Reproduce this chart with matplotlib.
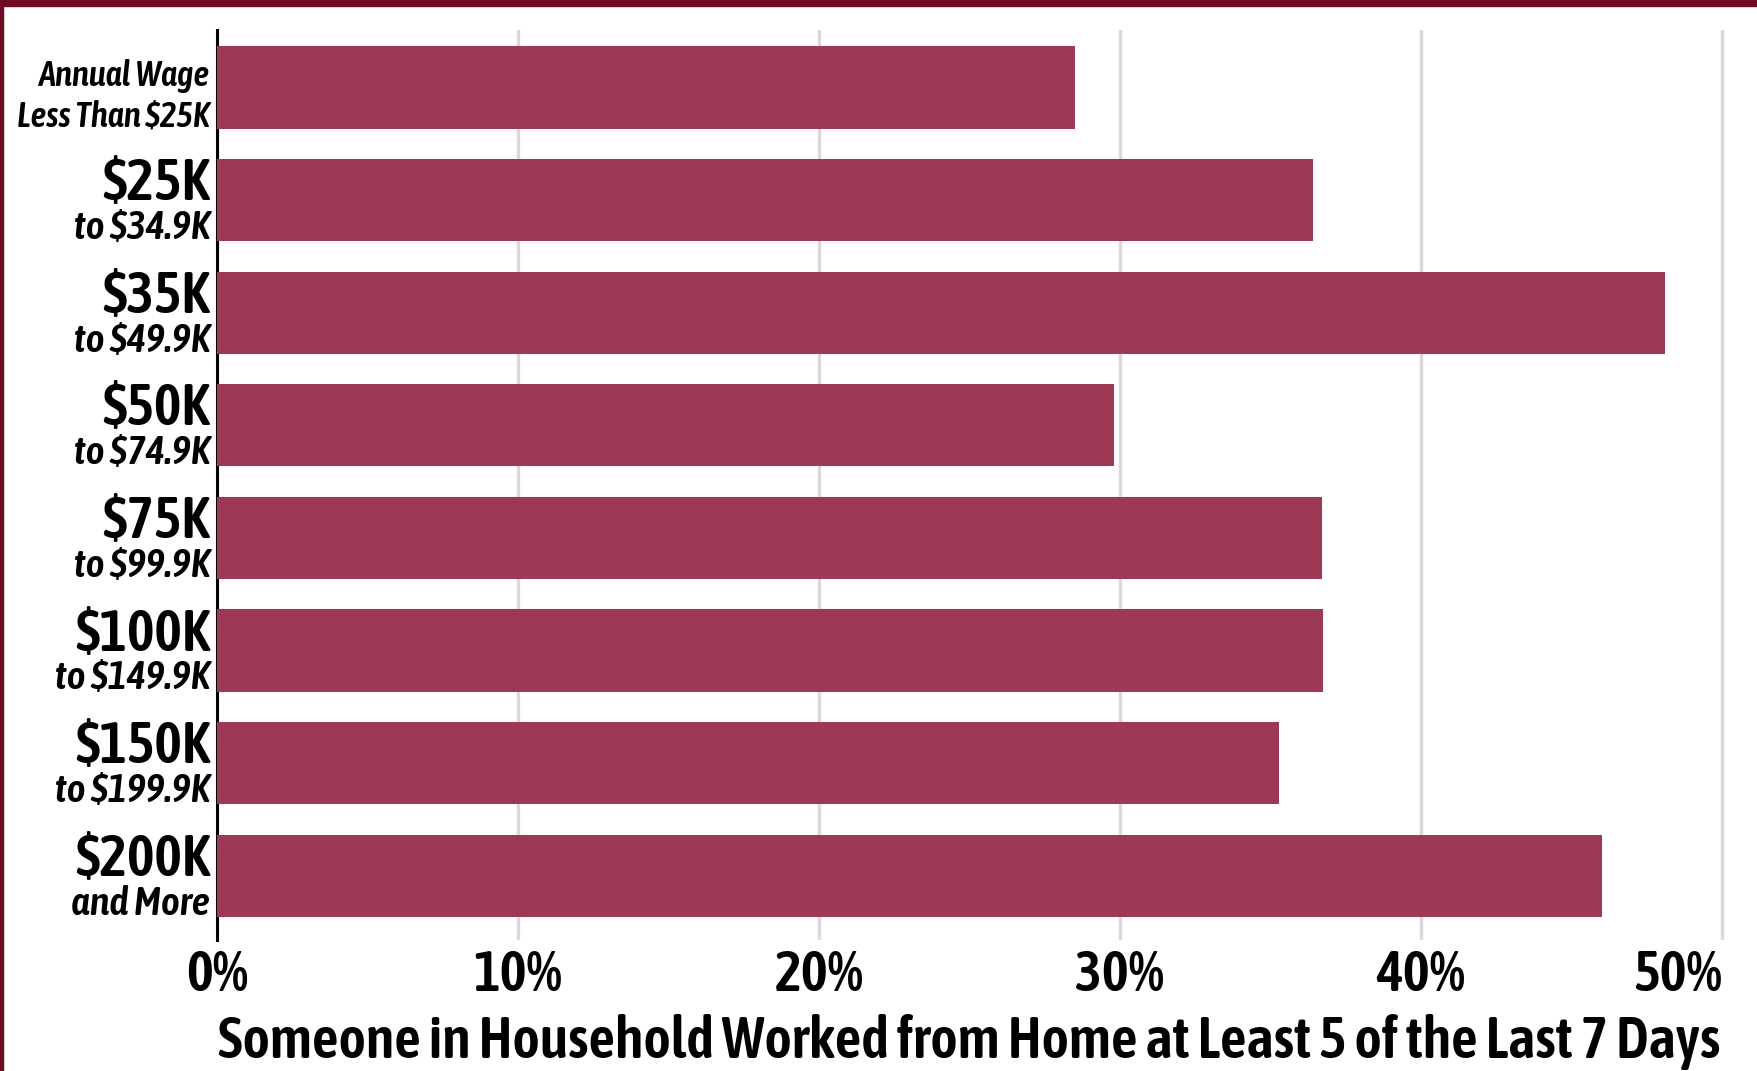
import matplotlib
matplotlib.use("Agg")
import matplotlib.pyplot as plt
from matplotlib.patches import Rectangle
from matplotlib import transforms

plt.rcParams["font.family"] = ["Asap Condensed", "Liberation Sans Narrow", "DejaVu Sans"]
plt.rcParams["text.parse_math"] = False
ITALIC_FAMILY = ["Asap Semi", "Asap Condensed", "Liberation Sans Narrow", "DejaVu Sans"]

# data
categories = [
    "Less than $25K", "$25K-$34.9K", "$35K-$49.9K", "$50K-$74.9K",
    "$75K-$99.9K", "$100K-$149.9K", "$150K-$199.9K", "$200K+",
]
pct_wfh = [28.5, 36.4, 48.1, 29.8, 36.7, 36.75, 35.3, 46.0]
label_top = ["Annual Wage", "$25K", "$35K", "$50K", "$75K", "$100K", "$150K", "$200K"]
label_bottom = ["Less Than $25K", "to $34.9K", "to $49.9K", "to $74.9K",
                "to $99.9K", "to $149.9K", "to $199.9K", "and More"]
x_ticks = [0, 10, 20, 30, 40, 50]
x_tick_labels = ["0%", "10%", "20%", "30%", "40%", "50%"]
x_title = "Someone in Household Worked from Home at Least 5 of the Last 7 Days"

BAR = "#9d3955"
FRAME = "#6c0b22"

fig = plt.figure(figsize=(17.57, 10.71), dpi=100)
ax = fig.add_axes([217 / 1757, 1 - 940 / 1071, (1737 - 217) / 1757, 910 / 1071])

pos = list(range(len(categories)))
ax.barh(pos, pct_wfh, height=0.73, color=BAR, zorder=3)

ax.set_xlim(0, 50.5)
ax.set_ylim(7.57, -0.51)
ax.set_xticks(x_ticks)
ax.set_xticklabels(x_tick_labels, fontsize=41, fontweight=600)
ax.xaxis.get_ticklabels()[-1].set_horizontalalignment("right")
ax.tick_params(axis="x", length=0, pad=6)
ax.set_yticks([])
ax.grid(axis="x", color="#d9d9d9", linewidth=2.4, zorder=0)

for side in ["top", "right", "bottom"]:
    ax.spines[side].set_visible(False)
ax.spines["left"].set_linewidth(2.2)
ax.spines["left"].set_color("black")
ax.spines["left"].set_zorder(2)

# two-line category labels
trans = transforms.blended_transform_factory(ax.transAxes, ax.transData)
for i, (top, bottom) in enumerate(zip(label_top, label_bottom)):
    if i == 0:
        ax.text(-0.0045, i - 0.01, top, transform=trans, ha="right", va="baseline",
                fontsize=25, style="italic", fontweight=600, family=ITALIC_FAMILY)
        ax.text(-0.0045, i + 0.35, bottom, transform=trans, ha="right", va="baseline",
                fontsize=25, style="italic", fontweight=600, family=ITALIC_FAMILY)
    else:
        ax.text(-0.0045, i + 0.0, top, transform=trans, ha="right", va="baseline",
                fontsize=42, fontweight=600)
        ax.text(-0.0045, i + 0.345, bottom, transform=trans, ha="right", va="baseline",
                fontsize=29, style="italic", fontweight=600, family=ITALIC_FAMILY)

fig.text(969 / 1757, 1 - 1058 / 1071, x_title, ha="center", va="baseline",
         fontsize=42, fontweight=600)

# maroon frame along top and left edges
fig.patches.append(Rectangle((0, 1 - 6 / 1071), 1, 6 / 1071, transform=fig.transFigure,
                             color=FRAME, zorder=10))
fig.patches.append(Rectangle((0, 0), 3 / 1757, 1, transform=fig.transFigure,
                             color=FRAME, zorder=10))

fig.savefig("out.png", dpi=100)
